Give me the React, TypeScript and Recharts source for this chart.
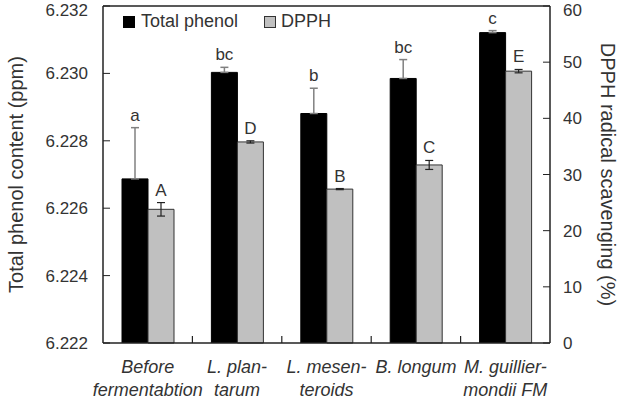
import React from 'react';
import {
  Bar,
  BarChart,
  ErrorBar,
  LabelList,
  ReferenceLine,
  XAxis,
  YAxis,
} from 'recharts';

// values
const groups = [
  ['Before', 'fermentabtion'],
  ['L. plan-', 'tarum'],
  ['L. mesen-', 'teroids'],
  ['B. longum', ''],
  ['M. guillier-', 'mondii FM'],
];
const phenol = [6.22687, 6.23003, 6.22881, 6.22985, 6.23121];
const phenolErr = [0.00152, 0.00015, 0.00075, 0.00056, 0.00006];
const phenolLetters = ['a', 'bc', 'b', 'bc', 'c'];
const dpph = [23.8, 35.8, 27.4, 31.7, 48.4];
const dpphErr = [1.2, 0.2, 0.1, 0.8, 0.3];
const dpphLetters = ['A', 'D', 'B', 'C', 'E'];
const leftTicks = [6.222, 6.224, 6.226, 6.228, 6.23, 6.232];
const rightTicks = [0, 10, 20, 30, 40, 50, 60];

const FONT = '"Liberation Sans", Arial, sans-serif';
const TEXT = '#333';
const CHART_W = 626;
const CHART_H = 402;
const LEFT_W = 103;
const RIGHT_W = 76;
const PLOT_W = CHART_W - LEFT_W - RIGHT_W;

const data = groups.map((g, i) => ({
  name: g.join(' '),
  phenol: phenol[i],
  // total phenol error drawn upward only
  phenolErr: [0, phenolErr[i]],
  dpph: dpph[i],
  dpphErr: dpphErr[i],
}));

// letter above the error bar, offset taken from the bar's own pixel scale
const letterLabel = (letters: string[], errs: number[], vals: number[], base: number) =>
  (p: any) => {
    const { x, y, width, height, index } = p;
    if (x == null || index == null) return null;
    const pxPerUnit = height / (vals[index] - base);
    const top = y - errs[index] * pxPerUnit;
    return (
      <text
        x={x + width / 2}
        y={top - 7}
        textAnchor="middle"
        fontSize={17}
        fontFamily={FONT}
        fill={TEXT}
      >
        {letters[index]}
      </text>
    );
  };

// two-line italic group label plus the small inward tick between groups
const GroupTick = (props: any) => {
  const { x, y, payload } = props;
  const i = payload.index ?? 0;
  const lines = groups[i] || [];
  const half = PLOT_W / groups.length / 2;
  return (
    <g>
      {i < groups.length - 1 && (
        <path d={`M${x + half},${y} V${y - 7}`} stroke="#222" strokeWidth={1.2} fill="none" />
      )}
      <text
        x={x}
        y={y}
        textAnchor="middle"
        fontSize={18}
        fontStyle="italic"
        fontFamily={FONT}
        fill={TEXT}
      >
        <tspan x={x} dy={30}>{lines[0]}</tspan>
        <tspan x={x} dy={23}>{lines[1]}</tspan>
      </text>
    </g>
  );
};

const AxisTitle = ({ viewBox, value, side }: any) => {
  if (!viewBox) return null;
  const cy = viewBox.y + viewBox.height / 2;
  const cx = side === 'left' ? 16 : 608;
  const rot = side === 'left' ? -90 : 90;
  return (
    <text
      x={cx}
      y={cy}
      transform={`rotate(${rot}, ${cx}, ${cy})`}
      textAnchor="middle"
      dominantBaseline="central"
      fontSize={20}
      fontFamily={FONT}
      fill={TEXT}
    >
      {value}
    </text>
  );
};

const Legend = () => (
  <div
    style={{
      position: 'absolute',
      left: 123,
      top: 11,
      display: 'flex',
      alignItems: 'center',
      fontFamily: FONT,
      fontSize: 18,
      color: TEXT,
    }}
  >
    <span style={{ width: 12, height: 12, background: '#000', display: 'inline-block', marginRight: 6 }} />
    <span>Total phenol</span>
    <span
      style={{
        width: 10,
        height: 10,
        background: '#c0c0c0',
        border: '1px solid #333',
        display: 'inline-block',
        marginLeft: 26,
        marginRight: 5,
      }}
    />
    <span>DPPH</span>
  </div>
);

export default function App() {
  return (
    <div style={{ position: 'absolute', left: 0, top: 0, width: CHART_W, height: CHART_H }}>
      <BarChart
        width={CHART_W}
        height={CHART_H}
        data={data}
        margin={{ top: 6, right: 0, bottom: 0, left: 0 }}
        barSize={26}
        barGap={0}
      >
        <XAxis
          dataKey="name"
          height={59}
          tickLine={false}
          tickSize={0}
          tickMargin={0}
          interval={0}
          axisLine={{ stroke: '#222', strokeWidth: 1.5 }}
          tick={<GroupTick />}
        />
        <YAxis
          yAxisId="left"
          width={LEFT_W}
          domain={[6.222, 6.232]}
          ticks={leftTicks}
          allowDataOverflow
          tickFormatter={(v: number) => v.toFixed(3)}
          tickSize={-7}
          tickMargin={22}
          tick={{ fontSize: 17, fill: TEXT, fontFamily: FONT }}
          axisLine={{ stroke: '#222', strokeWidth: 1.5 }}
          tickLine={{ stroke: '#222' }}
          label={<AxisTitle value="Total phenol content (ppm)" side="left" />}
        />
        <YAxis
          yAxisId="right"
          orientation="right"
          width={RIGHT_W}
          domain={[0, 60]}
          ticks={rightTicks}
          tickSize={-7}
          tickMargin={20}
          tick={{ fontSize: 17, fill: TEXT, fontFamily: FONT, textAnchor: 'start' }}
          axisLine={{ stroke: '#222', strokeWidth: 1.5 }}
          tickLine={{ stroke: '#222' }}
          label={<AxisTitle value="DPPH radical scavenging (%)" side="right" />}
        />
        <ReferenceLine yAxisId="left" y={6.232} stroke="#222" strokeWidth={1.5} />
        <Bar
          yAxisId="left"
          dataKey="phenol"
          fill="#000"
          stroke="#000"
          isAnimationActive={false}
        >
          <ErrorBar dataKey="phenolErr" width={4} stroke="#808080" strokeWidth={1.5} />
          <LabelList
            dataKey="phenol"
            content={letterLabel(phenolLetters, phenolErr, phenol, 6.222)}
          />
        </Bar>
        <Bar
          yAxisId="right"
          dataKey="dpph"
          fill="#c0c0c0"
          stroke="#333"
          strokeWidth={1}
          isAnimationActive={false}
        >
          <ErrorBar dataKey="dpphErr" width={4} stroke="#222" strokeWidth={1.2} />
          <LabelList
            dataKey="dpph"
            content={letterLabel(dpphLetters, dpphErr, dpph, 0)}
          />
        </Bar>
      </BarChart>
      <Legend />
    </div>
  );
}
